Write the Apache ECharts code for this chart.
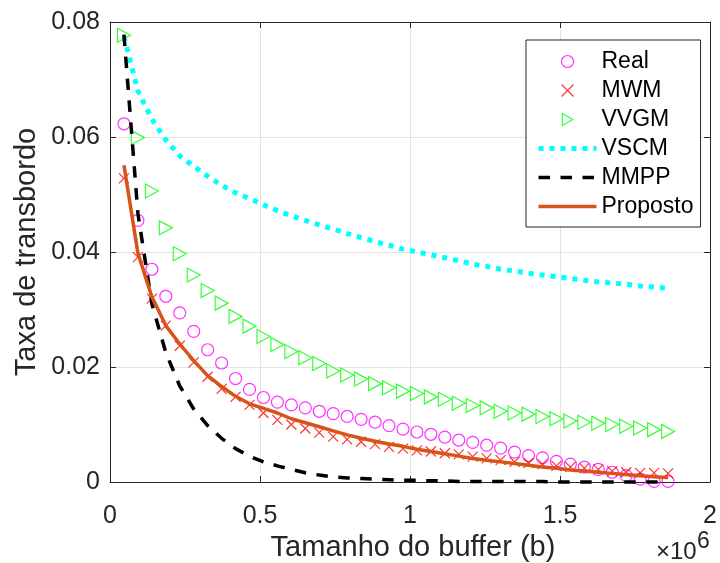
<!DOCTYPE html>
<html>
<head>
<meta charset="utf-8">
<script src="https://cdn.jsdelivr.net/npm/echarts@6/dist/echarts.min.js"></script>
<style>html,body{margin:0;padding:0;background:#fff}#c{width:720px;height:563px}</style>
</head>
<body>
<div id="c"></div>
<script>
// Buffer sizes (b)
const bufferSizes = [46500, 93000, 139500, 186000, 232500, 279000, 325500, 372000, 418500, 465000,
  511500, 558000, 604500, 651000, 697500, 744000, 790500, 837000, 883500, 930000,
  976500, 1023000, 1069500, 1116000, 1162500, 1209000, 1255500, 1302000, 1348500, 1395000,
  1441500, 1488000, 1534500, 1581000, 1627500, 1674000, 1720500, 1767000, 1813500, 1860000];

const realValues = [0.0623, 0.0455, 0.0370, 0.0323, 0.0294, 0.0262, 0.0230, 0.0207, 0.0180, 0.0161,
  0.0147, 0.0139, 0.0134, 0.0129, 0.0123, 0.0119, 0.0114, 0.0109, 0.0104, 0.0098,
  0.0092, 0.0087, 0.0083, 0.0078, 0.0073, 0.0069, 0.0064, 0.0059, 0.0052, 0.0046,
  0.0042, 0.0036, 0.0031, 0.0026, 0.0022, 0.0017, 0.0011, 0.0005, 0.0001, 0.0001];

const mwmValues = [0.0528, 0.0391, 0.0319, 0.0272, 0.0237, 0.0208, 0.0183, 0.0162, 0.0148, 0.0134,
  0.0120, 0.0108, 0.0100, 0.0093, 0.0086, 0.0079, 0.0074, 0.0070, 0.0066, 0.0061,
  0.0058, 0.0055, 0.0053, 0.0050, 0.0048, 0.0044, 0.0041, 0.0038, 0.0035, 0.0033,
  0.0031, 0.0028, 0.0026, 0.0024, 0.0022, 0.0019, 0.0017, 0.0016, 0.0016, 0.0015];

const vvgmValues = [0.0777, 0.0599, 0.0506, 0.0442, 0.0397, 0.0360, 0.0333, 0.0311, 0.0288, 0.0271,
  0.0253, 0.0239, 0.0227, 0.0216, 0.0206, 0.0193, 0.0186, 0.0179, 0.0171, 0.0164,
  0.0158, 0.0154, 0.0148, 0.0144, 0.0137, 0.0133, 0.0129, 0.0123, 0.0120, 0.0118,
  0.0114, 0.0110, 0.0106, 0.0104, 0.0102, 0.0100, 0.0097, 0.0094, 0.0091, 0.0088];

const vscmValues = [0.0775, 0.0680, 0.0631, 0.0595, 0.0567, 0.0549, 0.0532, 0.0516, 0.0503, 0.0493,
  0.0482, 0.0472, 0.0463, 0.0455, 0.0447, 0.0440, 0.0432, 0.0425, 0.0418, 0.0412,
  0.0405, 0.0400, 0.0395, 0.0390, 0.0385, 0.0379, 0.0375, 0.0370, 0.0367, 0.0363,
  0.0360, 0.0357, 0.0354, 0.0351, 0.0348, 0.0346, 0.0344, 0.0341, 0.0339, 0.0337];

const mmppValues = [0.0778, 0.0467, 0.0310, 0.0225, 0.0167, 0.0127, 0.0098, 0.0076, 0.0058, 0.0045,
  0.0035, 0.0028, 0.0022, 0.0016, 0.0012, 0.0009, 0.0007, 0.0006, 0.0005, 0.0004,
  0.0003, 0.0003, 0.0002, 0.0002, 0.0001, 0.0001, 0.0001, 0.0001, 0.0001, 0.0001,
  0.0001, 0.0000, 0.0000, 0.0000, 0.0000, 0.0000, 0.0000, 0.0000, 0.0000, 0.0000];

const propostoValues = [0.0551, 0.0398, 0.0322, 0.0272, 0.0240, 0.0211, 0.0185, 0.0166, 0.0149, 0.0136,
  0.0128, 0.0120, 0.0110, 0.0103, 0.0096, 0.0089, 0.0082, 0.0076, 0.0071, 0.0066,
  0.0062, 0.0057, 0.0053, 0.0049, 0.0045, 0.0041, 0.0038, 0.0035, 0.0032, 0.0029,
  0.0026, 0.0024, 0.0021, 0.0019, 0.0017, 0.0015, 0.0013, 0.0011, 0.0009, 0.0008];

const seriesNames = ['Real', 'MWM', 'VVGM', 'VSCM', 'MMPP', 'Proposto'];
const xAxisTitle = 'Tamanho do buffer (b)';
const yAxisTitle = 'Taxa de transbordo';

const FONT = '"Liberation Sans", Arial, Helvetica, sans-serif';
const AX = '#262626';
const XPATH = 'path://M0,0L10,10M0,10L10,0';
const TRIPATH = 'path://M0,0L12,7L0,14Z';

const pts = vals => bufferSizes.map((x, i) => [x, vals[i]]);

function markerSeries(name, vals, symbol, size, color) {
  return {
    name: name, type: 'scatter', data: pts(vals),
    symbol: symbol, symbolSize: size,
    itemStyle: { color: 'none', borderColor: color, borderWidth: 1.2 },
    clip: false, silent: true, animation: false
  };
}
function lineSeries(name, vals, color, width, type) {
  return {
    name: name, type: 'line', data: pts(vals), symbol: 'none', showSymbol: false,
    lineStyle: { color: color, width: width, type: type, cap: 'butt' },
    itemStyle: { color: color },
    clip: false, silent: true, animation: false
  };
}

const chart = echarts.init(document.getElementById('c'), null, { renderer: 'canvas' });
chart.setOption({
  backgroundColor: '#fff',
  animation: false,
  grid: { left: 110, top: 22, width: 607, height: 460, containLabel: false },
  xAxis: [{
    type: 'value', min: 0, max: 2000000, interval: 500000, position: 'bottom',
    axisLine: { show: true, onZero: false, lineStyle: { color: AX, width: 1 } },
    axisTick: { show: true, inside: true, length: 6, lineStyle: { color: AX, width: 1 } },
    axisLabel: { show: true, margin: 22, color: AX, fontFamily: FONT, fontSize: 25,
      formatter: v => String(v / 1000000) },
    splitLine: { show: true, lineStyle: { color: '#e3e3e3', width: 1 } }
  }, {
    type: 'value', min: 0, max: 2000000, interval: 500000, position: 'top',
    axisLine: { show: true, onZero: false, lineStyle: { color: AX, width: 1 } },
    axisTick: { show: true, inside: true, length: 6, lineStyle: { color: AX, width: 1 } },
    axisLabel: { show: false }, splitLine: { show: false }
  }],
  yAxis: [{
    type: 'value', min: 0, max: 0.08, interval: 0.02, position: 'left',
    axisLine: { show: true, onZero: false, lineStyle: { color: AX, width: 1 } },
    axisTick: { show: true, inside: true, length: 6, lineStyle: { color: AX, width: 1 } },
    axisLabel: { show: true, margin: 10, color: AX, fontFamily: FONT, fontSize: 25 },
    splitLine: { show: true, lineStyle: { color: '#e3e3e3', width: 1 } }
  }, {
    type: 'value', min: 0, max: 0.08, interval: 0.02, position: 'right',
    axisLine: { show: true, onZero: false, lineStyle: { color: AX, width: 1 } },
    axisTick: { show: true, inside: true, length: 6, lineStyle: { color: AX, width: 1 } },
    axisLabel: { show: false }, splitLine: { show: false }
  }],
  legend: {
    orient: 'vertical', left: 526, top: 40,
    padding: [7, 7, 6, 10],
    backgroundColor: '#fff', borderColor: AX, borderWidth: 1,
    itemWidth: 58, itemHeight: 12, itemGap: 0,
    selectedMode: false,
    textStyle: { fontFamily: FONT, fontSize: 23, color: '#000', lineHeight: 29 },
    data: [
      { name: seriesNames[0], icon: 'circle', itemStyle: { color: 'none', borderColor: '#ff00ff', borderWidth: 1.2 } },
      { name: seriesNames[1], icon: XPATH, itemStyle: { color: 'none', borderColor: '#ff0000', borderWidth: 1.2 } },
      { name: seriesNames[2], icon: TRIPATH, itemStyle: { color: 'none', borderColor: '#00ff00', borderWidth: 1.2 } },
      { name: seriesNames[3], itemStyle: { opacity: 0 }, lineStyle: { color: '#00ffff', width: 5, type: [5, 6] } },
      { name: seriesNames[4], itemStyle: { opacity: 0 }, lineStyle: { color: '#000000', width: 3.5, type: [11.5, 10.5] } },
      { name: seriesNames[5], itemStyle: { opacity: 0 }, lineStyle: { color: '#D95319', width: 3.5, type: 'solid' } }
    ]
  },
  series: [
    markerSeries(seriesNames[0], realValues, 'circle', 12, '#ff00ff'),
    markerSeries(seriesNames[1], mwmValues, XPATH, 10, '#ff0000'),
    markerSeries(seriesNames[2], vvgmValues, TRIPATH, [13, 14], '#00ff00'),
    lineSeries(seriesNames[3], vscmValues, '#00ffff', 5, [5, 6]),
    lineSeries(seriesNames[4], mmppValues, '#000000', 3.5, [11.5, 10.5]),
    lineSeries(seriesNames[5], propostoValues, '#D95319', 3.5, 'solid')
  ],
  graphic: [
    { type: 'text', x: 413, y: 548, style: { text: xAxisTitle, font: '29px ' + FONT, fill: AX, textAlign: 'center', textVerticalAlign: 'middle' } },
    { type: 'text', x: 27, y: 252, rotation: Math.PI / 2, style: { text: yAxisTitle, font: '29px ' + FONT, fill: AX, textAlign: 'center', textVerticalAlign: 'middle' } },
    { type: 'text', x: 656, y: 552, style: { text: '\u00d710', font: '24px ' + FONT, fill: AX, textAlign: 'left', textVerticalAlign: 'middle' } },
    { type: 'text', x: 697, y: 542, style: { text: '6', font: '23px ' + FONT, fill: AX, textAlign: 'left', textVerticalAlign: 'middle' } }
  ]
});
</script>
</body>
</html>
